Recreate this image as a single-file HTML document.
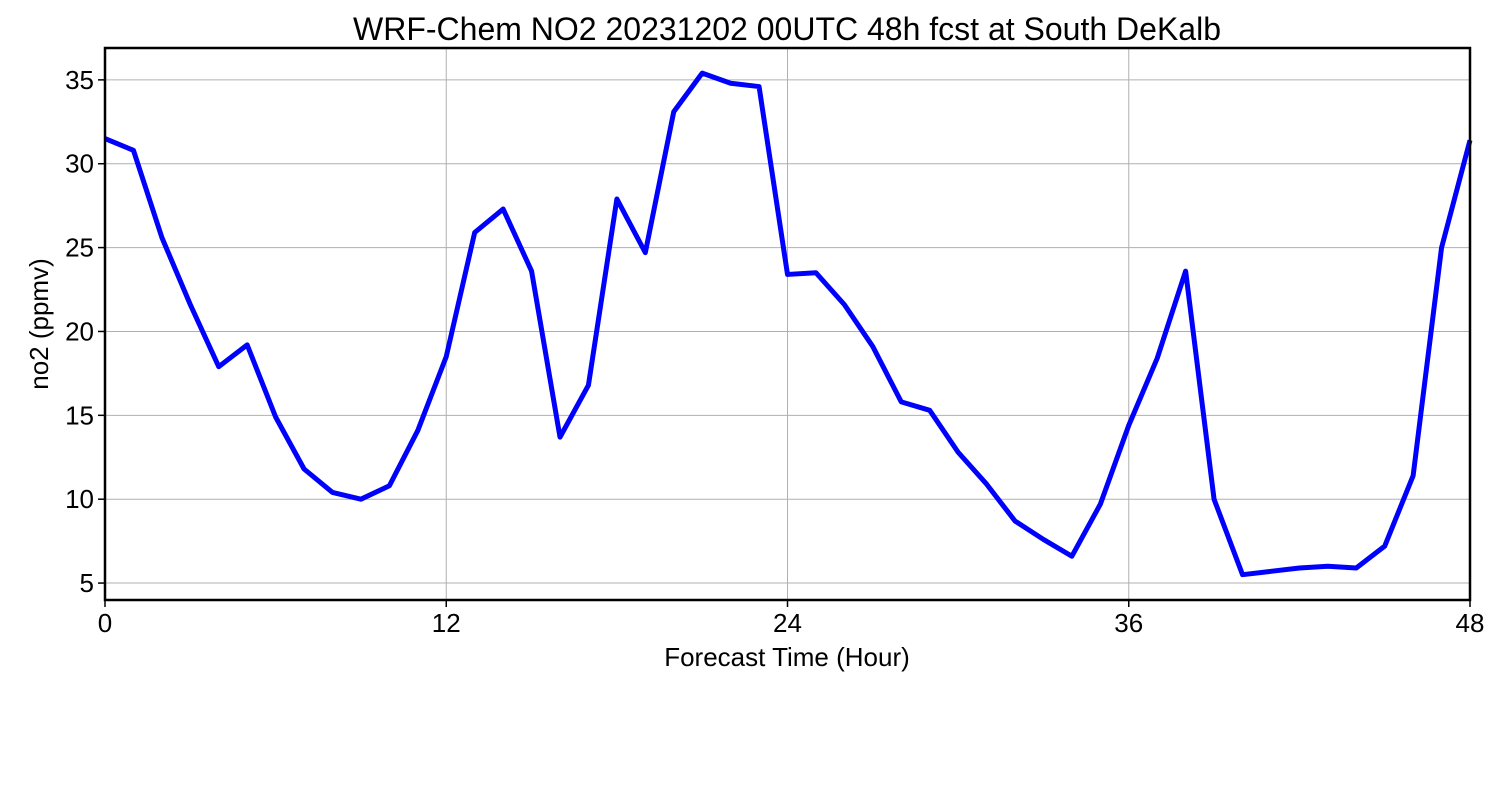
<!DOCTYPE html>
<html><head><meta charset="utf-8"><style>
body{margin:0;background:#fff;width:1500px;height:800px;overflow:hidden}
svg{font-family:"Liberation Sans","DejaVu Sans",sans-serif}
</style></head><body>
<svg id="chart" width="1500" height="800" viewBox="0 0 1500 800">
<rect width="1500" height="800" fill="#fff"/>
<text x="787" y="40" font-size="32" text-anchor="middle" fill="#000">WRF-Chem NO2  20231202 00UTC 48h fcst at South DeKalb</text>
<g id="grid"></g>
<g id="ticks"></g>
<polyline id="line" fill="none" stroke="#0000ff" stroke-width="5" stroke-linejoin="round"/>
<rect x="105" y="48" width="1365" height="552" fill="none" stroke="#000" stroke-width="2.5"/>
<text x="787" y="666" font-size="26" text-anchor="middle">Forecast Time (Hour)</text>
<text transform="translate(48,324) rotate(-90)" font-size="26" text-anchor="middle">no2  (ppmv)</text>
</svg>
<script>
const hours=[0,1,2,3,4,5,6,7,8,9,10,11,12,13,14,15,16,17,18,19,20,21,22,23,24,25,26,27,28,29,30,31,32,33,34,35,36,37,38,39,40,41,42,43,44,45,46,47,48];
const no2Values=[31.5,30.8,25.6,21.6,17.9,19.2,14.9,11.8,10.4,10.0,10.8,14.1,18.5,25.9,27.3,23.6,13.7,16.8,27.9,24.7,33.1,35.4,34.8,34.6,23.4,23.5,21.6,19.1,15.8,15.3,12.8,10.9,8.7,7.6,6.6,9.7,14.4,18.4,23.6,10.0,5.5,5.7,5.9,6.0,5.9,7.2,11.4,25.0,31.4];
const xTicks=[0,12,24,36,48];
const yTicks=[5,10,15,20,25,30,35];
const X0=105,X1=1470,Y0=600,Y1=48,xMin=0,xMax=48,yMin=3.99,yMax=36.9;
const sx=v=>X0+(v-xMin)/(xMax-xMin)*(X1-X0);
const sy=v=>Y0-(v-yMin)/(yMax-yMin)*(Y0-Y1);
const NS="http://www.w3.org/2000/svg";
const grid=document.getElementById('grid'),ticks=document.getElementById('ticks');
function mk(tag,attrs,parent,txt){const e=document.createElementNS(NS,tag);for(const k in attrs)e.setAttribute(k,attrs[k]);if(txt!==undefined)e.textContent=txt;parent.appendChild(e);return e;}
xTicks.forEach(t=>{
 const x=sx(t);
 const g=mk('line',{x1:x,x2:x,y1:Y1,y2:Y0,stroke:'#b0b0b0','stroke-width':1},grid);
 
 
 const tk=mk('line',{x1:x,x2:x,y1:Y0,y2:Y0+7,stroke:'#000','stroke-width':1.5},ticks);
 
 
 const lb=mk('text',{x:x,y:Y0+32,'font-size':26,'text-anchor':'middle'},ticks,String(t));
 
 
});
yTicks.forEach(t=>{
 const y=sy(t);
 const g=mk('line',{x1:X0,x2:X1,y1:y,y2:y,stroke:'#b0b0b0','stroke-width':1},grid);
 
 
 const tk=mk('line',{x1:X0-7,x2:X0,y1:y,y2:y,stroke:'#000','stroke-width':1.5},ticks);
 
 
 const lb=mk('text',{x:X0-11,y:y+9,'font-size':26,'text-anchor':'end'},ticks,String(t));
 
 
});
document.getElementById('line').setAttribute('points',hours.map((h,i)=>sx(h)+','+sy(no2Values[i])).join(' '));
</script>
</body></html>
